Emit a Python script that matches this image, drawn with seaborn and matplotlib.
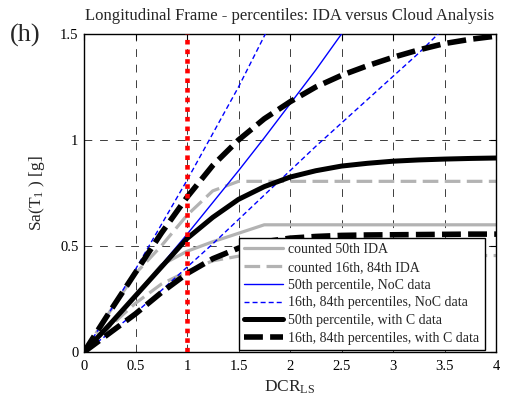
import matplotlib
matplotlib.use("Agg")
import matplotlib.pyplot as plt
import seaborn as sns

# Demand-to-capacity ratio sampling (limit state LS)
dcr = [0, 0.25, 0.5, 0.75, 1.0, 1.25, 1.5, 1.75, 2.0, 2.25, 2.5, 2.75, 3.0, 3.25, 3.5, 3.75, 4.0]

# Counted IDA percentiles, Sa(T1) in g
ida_50 = [0, 0.13, 0.265, 0.41, 0.475, 0.52, 0.56, 0.60, 0.60, 0.60, 0.60, 0.60, 0.60, 0.60, 0.60, 0.60, 0.60]
ida_84 = [0, 0.19, 0.37, 0.50, 0.645, 0.76, 0.805, 0.805, 0.805, 0.805, 0.805, 0.805, 0.805, 0.805, 0.805, 0.805, 0.805]
ida_16 = [0, 0.12, 0.23, 0.32, 0.38, 0.43, 0.452, 0.455, 0.455, 0.455, 0.455, 0.455, 0.455, 0.455, 0.455, 0.455, 0.455]

# Cloud analysis with collapse (C) data
cloud_c_50 = [0, 0.13, 0.265, 0.40, 0.535, 0.635, 0.72, 0.78, 0.825, 0.855, 0.877, 0.89, 0.90, 0.906, 0.91, 0.913, 0.915]
cloud_c_84 = [0, 0.19, 0.375, 0.56, 0.73, 0.88, 1.0, 1.10, 1.18, 1.25, 1.305, 1.35, 1.39, 1.425, 1.455, 1.475, 1.49]
cloud_c_16 = [0, 0.09, 0.18, 0.28, 0.37, 0.44, 0.49, 0.52, 0.537, 0.545, 0.55, 0.552, 0.553, 0.554, 0.555, 0.556, 0.556]

# Cloud analysis without collapse (NoC) data
dcr_noc_50 = [0, 0.25, 0.5, 0.75, 1.0, 1.25, 1.5, 1.75, 2.0, 2.25, 2.5, 2.75]
noc_50 = [0, 0.135, 0.27, 0.41, 0.555, 0.705, 0.855, 1.01, 1.17, 1.33, 1.50, 1.67]
dcr_noc_84 = [0, 0.25, 0.5, 0.75, 1.0, 1.25, 1.5, 1.75, 2.0]
noc_84 = [0, 0.19, 0.39, 0.60, 0.81, 1.03, 1.25, 1.49, 1.73]
dcr_noc_16 = [0, 0.25, 0.5, 0.75, 1.0, 1.25, 1.5, 1.75, 2.0, 2.25, 2.5, 2.75, 3.0, 3.25, 3.5]
noc_16 = [0, 0.09, 0.185, 0.29, 0.40, 0.51, 0.625, 0.74, 0.855, 0.97, 1.08, 1.19, 1.30, 1.41, 1.53]

limit_dcr = 1.0

x_ticks = [0, 0.5, 1, 1.5, 2, 2.5, 3, 3.5, 4]
x_tick_labels = ["0", "0.5", "1", "1.5", "2", "2.5", "3", "3.5", "4"]
y_ticks = [0, 0.5, 1, 1.5]
y_tick_labels = ["0", "0.5", "1", "1.5"]

legend_labels = [
    "counted 50th IDA",
    "counted 16th, 84th IDA",
    "50th percentile, NoC data",
    "16th, 84th percentiles, NoC data",
    "50th percentile, with C data",
    "16th, 84th percentiles, with C data",
]

sns.set_theme(style="white")
plt.rcParams["font.family"] = ["Liberation Serif", "DejaVu Serif"]
plt.rcParams["mathtext.fontset"] = "custom"
plt.rcParams["mathtext.rm"] = "Liberation Serif"
plt.rcParams["mathtext.it"] = "Liberation Serif:italic"

fig = plt.figure(figsize=(5.13, 4.05), dpi=100)
ax = fig.add_axes([84 / 513, 1 - 352 / 405, 412 / 513, 318 / 405])

gray = "#b3b3b3"
blue = "#0000ff"
gray_dash = (0, (4.9, 2.0))
blue_dash = (0, (3.6, 2.2))
black_dash = (0, (3.4, 1.3))

# counted IDA
sns.lineplot(x=dcr, y=ida_50, ax=ax, color=gray, lw=2.3, zorder=2)
sns.lineplot(x=dcr, y=ida_84, ax=ax, color=gray, lw=2.3, linestyle=gray_dash, zorder=2)
sns.lineplot(x=dcr, y=ida_16, ax=ax, color=gray, lw=2.3, linestyle=gray_dash, zorder=2)

# cloud, NoC
sns.lineplot(x=dcr_noc_50, y=noc_50, ax=ax, color=blue, lw=1.0, zorder=3)
sns.lineplot(x=dcr_noc_84, y=noc_84, ax=ax, color=blue, lw=1.0, linestyle=blue_dash, zorder=3)
sns.lineplot(x=dcr_noc_16, y=noc_16, ax=ax, color=blue, lw=1.0, linestyle=blue_dash, zorder=3)

# cloud, with C
sns.lineplot(x=dcr, y=cloud_c_50, ax=ax, color="black", lw=3.6, zorder=4)
sns.lineplot(x=dcr, y=cloud_c_84, ax=ax, color="black", lw=4.0, linestyle=black_dash, zorder=4)
sns.lineplot(x=dcr, y=cloud_c_16, ax=ax, color="black", lw=4.0, linestyle=black_dash, zorder=4)

# limit state threshold
ax.axvline(limit_dcr, color="#ff0000", lw=3.3, linestyle=(0, (1, 1.1)), zorder=5)

ax.set_xlim(0, 4)
ax.set_ylim(0, 1.5)
ax.set_xticks(x_ticks)
ax.set_xticklabels(x_tick_labels)
ax.set_yticks(y_ticks)
ax.set_yticklabels(y_tick_labels)
ax.tick_params(direction="in", length=4, width=0.8, labelsize=10.5, colors="black",
               top=True, right=True, pad=4)
ax.tick_params(axis="x", pad=6)
ax.grid(True, color="#3c3c3c", lw=0.7, linestyle=(0, (8, 8)))
for s in ax.spines.values():
    s.set_visible(True)
    s.set_color("black")
    s.set_linewidth(1.0)

ax.set_title("Longitudinal Frame - percentiles: IDA versus Cloud Analysis",
             fontsize=12, pad=10)
ax.set_xlabel(r"DCR$_{\mathrm{LS}}$", fontsize=12.5, labelpad=4)
ax.set_ylabel(r"Sa(T$_{1}$ ) [g]", fontsize=12.5, labelpad=9)
fig.text(10 / 513, 1 - 35 / 405, "(h)", fontsize=19, va="center", ha="left")

handles = [
    plt.Line2D([], [], color=gray, lw=2.3),
    plt.Line2D([], [], color=gray, lw=2.3, linestyle=gray_dash),
    plt.Line2D([], [], color=blue, lw=1.0),
    plt.Line2D([], [], color=blue, lw=1.0, linestyle=blue_dash),
    plt.Line2D([], [], color="black", lw=3.6),
    plt.Line2D([], [], color="black", lw=4.0, linestyle=black_dash),
]
leg = ax.legend(handles, legend_labels, loc="lower right", bbox_to_anchor=(0.973, 0.006),
                borderaxespad=0, fontsize=10, frameon=True, fancybox=False,
                framealpha=1, edgecolor="black", handlelength=2.8, handletextpad=0.4,
                labelspacing=0.34, borderpad=0.38)
leg.get_frame().set_linewidth(1.0)
leg.set_zorder(10)

fig.savefig("out.png", dpi=100)
